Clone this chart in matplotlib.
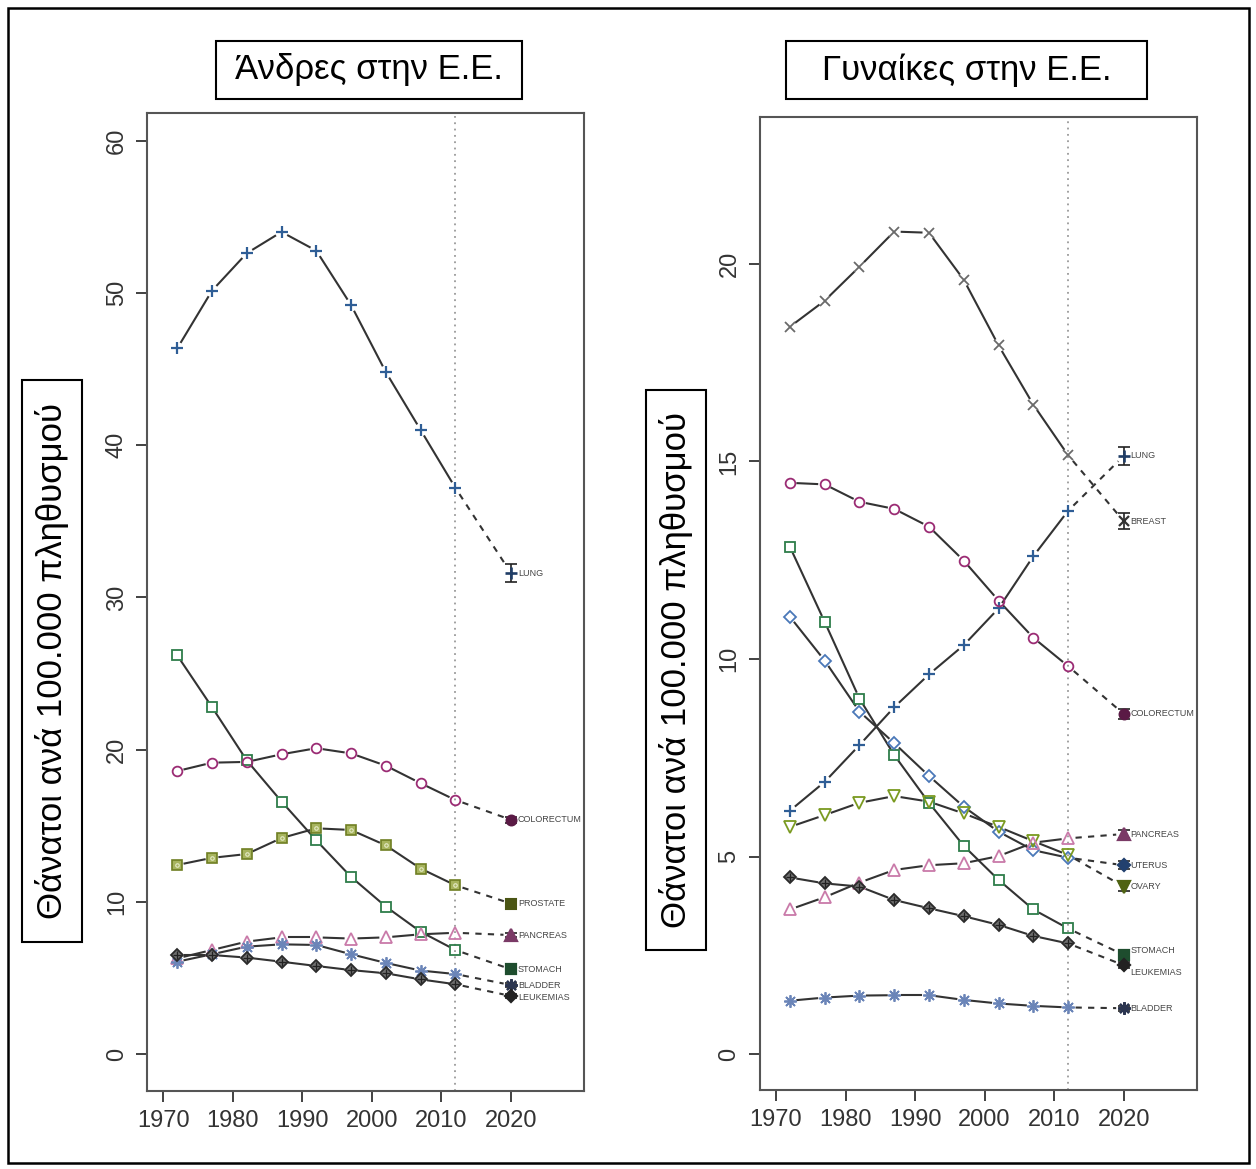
import matplotlib
matplotlib.use("Agg")
import matplotlib.pyplot as plt
from matplotlib.patches import Rectangle
import numpy as np

# ---------------- data ----------------
years = [1972, 1977, 1982, 1987, 1992, 1997, 2002, 2007, 2012]
pred_year = 2020

men_names = ["LUNG", "STOMACH", "COLORECTUM", "PROSTATE", "PANCREAS", "BLADDER", "LEUKEMIAS"]
men_lung = [46.35, 50.14, 52.6, 54.0, 52.77, 49.2, 44.8, 41.0, 37.2]
men_stomach = [26.2, 22.8, 19.3, 16.6, 14.05, 11.65, 9.7, 8.05, 6.85]
men_colorectum = [18.6, 19.15, 19.2, 19.7, 20.1, 19.76, 18.95, 17.8, 16.7]
men_prostate = [12.43, 12.9, 13.15, 14.2, 14.84, 14.73, 13.72, 12.2, 11.1]
men_pancreas = [6.3, 6.85, 7.4, 7.68, 7.68, 7.6, 7.68, 7.88, 7.98]
men_bladder = [6.08, 6.57, 7.07, 7.22, 7.18, 6.57, 6.0, 5.5, 5.27]
men_leukemias = [6.52, 6.52, 6.35, 6.08, 5.8, 5.53, 5.32, 4.92, 4.6]
men_pred = [31.6, 5.58, 15.4, 9.9, 7.83, 4.55, 3.83]
men_pred_err = [0.6, 0.15, 0.2, 0.15, 0.15, 0.12, 0.12]

women_names = ["BREAST", "LUNG", "COLORECTUM", "STOMACH", "UTERUS", "OVARY", "PANCREAS", "LEUKEMIAS", "BLADDER"]
women_breast = [18.41, 19.07, 19.93, 20.82, 20.79, 19.6, 17.94, 16.44, 15.16]
women_lung = [6.16, 6.89, 7.82, 8.78, 9.61, 10.35, 11.28, 12.6, 13.75]
women_colorectum = [14.46, 14.42, 13.98, 13.8, 13.35, 12.49, 11.48, 10.54, 9.82]
women_stomach = [12.84, 10.94, 9.0, 7.57, 6.36, 5.27, 4.41, 3.66, 3.18]
women_uterus = [11.07, 9.96, 8.67, 7.87, 7.04, 6.26, 5.63, 5.16, 4.97]
women_ovary = [5.75, 6.05, 6.36, 6.53, 6.39, 6.09, 5.75, 5.39, 5.04]
women_pancreas = [3.66, 3.97, 4.34, 4.66, 4.78, 4.83, 5.01, 5.35, 5.46]
women_leukemias = [4.47, 4.32, 4.24, 3.9, 3.69, 3.49, 3.27, 2.99, 2.8]
women_bladder = [1.35, 1.43, 1.48, 1.49, 1.49, 1.37, 1.28, 1.22, 1.18]
women_pred = [13.49, 15.14, 8.61, 2.51, 4.78, 4.24, 5.57, 2.25, 1.16]
women_pred_err = [0.2, 0.22, 0.12, 0.1, 0.1, 0.1, 0.1, 0.08, 0.06]

x_ticks = [1970, 1980, 1990, 2000, 2010, 2020]
men_yticks = [0, 10, 20, 30, 40, 50, 60]
women_yticks = [0, 5, 10, 15, 20]

title_men = "Άνδρες στην Ε.Ε."
title_women = "Γυναίκες στην Ε.Ε."
ylabel_text = "Θάνατοι ανά 100.000 πληθυσμού"

# ---------------- styles ----------------
STY = {
    "LUNG": dict(marker="+", color="#2f5e96", mfc="none", ms=9, mew=1.6),
    "BREAST": dict(marker="x", color="#6a6a6a", mfc="none", ms=7, mew=1.3),
    "STOMACH": dict(marker="s", color="#2e7d4a", mfc="none", ms=7, mew=1.3),
    "COLORECTUM": dict(marker="o", color="#9b2c74", mfc="none", ms=7, mew=1.3),
    "PROSTATE": dict(marker="s", color="#6f7f22", mfc="#a7b45e", ms=7, mew=1.2),
    "PANCREAS": dict(marker="^", color="#c97aa9", mfc="none", ms=8, mew=1.3),
    "BLADDER": dict(marker=(8, 2, 0), color="#6b85b8", mfc="none", ms=9, mew=1.3),
    "LEUKEMIAS": dict(marker="D", color="#2a2a2a", mfc="#6e6e6e", ms=6.5, mew=1.3),
    "UTERUS": dict(marker="D", color="#4a78b8", mfc="none", ms=6.5, mew=1.3),
    "OVARY": dict(marker="v", color="#7a9a20", mfc="none", ms=8, mew=1.3),
}
PRED_COL = {
    "LUNG": "#1f3d66", "BREAST": "#333333", "STOMACH": "#1e4d2e", "COLORECTUM": "#5a1a45",
    "PROSTATE": "#4a5514", "PANCREAS": "#7a3a66", "BLADDER": "#2b3550", "LEUKEMIAS": "#222222",
    "UTERUS": "#22406e", "OVARY": "#4f6313",
}
LINE_COL = "#333333"
GAP_PX = 7.5

plt.rcParams["font.family"] = ["Liberation Sans", "DejaVu Sans"]

W, H = 1256, 1169
fig = plt.figure(figsize=(W / 100, H / 100), dpi=100)


def fx(px):
    return px / W


def fy(py):
    return 1 - py / H


def gapped_line(ax, xs, ys, **kw):
    """Draw segments between points leaving a gap around each point (like R type='b')."""
    pts = ax.transData.transform(np.column_stack([xs, ys]))
    inv = ax.transData.inverted()
    for a, b in zip(pts[:-1], pts[1:]):
        d = b - a
        L = np.hypot(*d)
        if L <= 2 * GAP_PX:
            continue
        u = d / L
        seg = inv.transform(np.vstack([a + u * GAP_PX, b - u * GAP_PX]))
        ax.plot(seg[:, 0], seg[:, 1], **kw)


def draw_panel(ax, names, series, preds, errs, label_off, ylim, yticks):
    ax.set_xlim(1967.7, 2030.5)
    ax.set_ylim(*ylim)
    ax.axvline(2012, color="#9a9a9a", lw=1.3, ls=(0, (1, 2.5)), zorder=1)
    for name, vals, p, e in zip(names, series, preds, errs):
        st = STY[name]
        gapped_line(ax, years, vals, color=LINE_COL, lw=1.5, zorder=2)
        gapped_line(ax, [years[-1], pred_year], [vals[-1], p], color=LINE_COL, lw=1.5,
                    ls=(0, (3, 3)), zorder=2)
        ax.plot(years, vals, ls="none", marker=st["marker"], ms=st["ms"],
                mec=st["color"], mfc=st["mfc"], mew=st["mew"], zorder=4)
        if name == "PROSTATE":
            ax.plot(years, vals, ls="none", marker="o", ms=2.5, mec="#e6ebc8",
                    mfc="none", mew=0.8, zorder=5)
        if name == "LEUKEMIAS":
            ax.plot(years, vals, ls="none", marker="+", ms=6, mec="#222222",
                    mew=0.9, zorder=5)
        pc = PRED_COL[name]
        ax.errorbar([pred_year], [p], yerr=[e], fmt="none", ecolor="#222222",
                    elinewidth=1.2, capsize=4, capthick=1.2, zorder=5)
        pmfc = "none" if st["marker"] in ("+", "x") else pc
        ax.plot([pred_year], [p], ls="none", marker=st["marker"], ms=st["ms"],
                mec=pc, mfc=pmfc, mew=st["mew"] + 0.3, zorder=6)
        ax.text(pred_year + 1.0, p + label_off.get(name, 0.0), name, fontsize=6.5,
                color="#454545", ha="left", va="center", zorder=7)
    ax.set_xticks(x_ticks)
    ax.set_yticks(yticks)
    ax.tick_params(axis="both", direction="out", length=8, width=1.3,
                   color="#333333", labelsize=17, labelcolor="#333333", pad=6)
    ax.tick_params(axis="y", labelrotation=90)
    for lbl in ax.get_yticklabels():
        lbl.set_va("center")
    for sp in ax.spines.values():
        sp.set_linewidth(1.5)
        sp.set_color("#555555")


# ---------------- men panel ----------------
ax1 = fig.add_axes([fx(147.3), fy(1090.7), fx(584 - 147.3), (1090.7 - 112.7) / H])
draw_panel(ax1, men_names,
           [men_lung, men_stomach, men_colorectum, men_prostate, men_pancreas,
            men_bladder, men_leukemias],
           men_pred, men_pred_err, {"LEUKEMIAS": -0.1}, (-2.39, 61.83), men_yticks)

# ---------------- women panel ----------------
ax2 = fig.add_axes([fx(760), fy(1090), fx(1196.7 - 760), (1090 - 117) / H])
draw_panel(ax2, women_names,
           [women_breast, women_lung, women_colorectum, women_stomach, women_uterus,
            women_ovary, women_pancreas, women_leukemias, women_bladder],
           women_pred, women_pred_err, {"STOMACH": 0.1, "LEUKEMIAS": -0.18},
           (-0.91, 23.72), women_yticks)

# ---------------- boxes & titles ----------------
def boxed_text(x0, y0, x1, y1, text, rot=0, size=25):
    fig.patches.append(Rectangle((fx(x0), fy(y1)), fx(x1 - x0), (y1 - y0) / H,
                                 transform=fig.transFigure, fill=False,
                                 edgecolor="black", lw=1.5))
    fig.text(fx((x0 + x1) / 2), fy((y0 + y1) / 2), text, ha="center", va="center",
             rotation=rot, fontsize=size, color="black")


boxed_text(216, 41, 522, 99, title_men)
boxed_text(786, 41, 1147, 99, title_women)
boxed_text(22, 380, 82, 942, ylabel_text, rot=90)
boxed_text(646, 390, 706, 950, ylabel_text, rot=90)

# outer border
fig.patches.append(Rectangle((fx(8), fy(1163)), fx(1249 - 8), (1163 - 8) / H,
                             transform=fig.transFigure, fill=False,
                             edgecolor="black", lw=1.8))

fig.savefig("out.png", dpi=100)
